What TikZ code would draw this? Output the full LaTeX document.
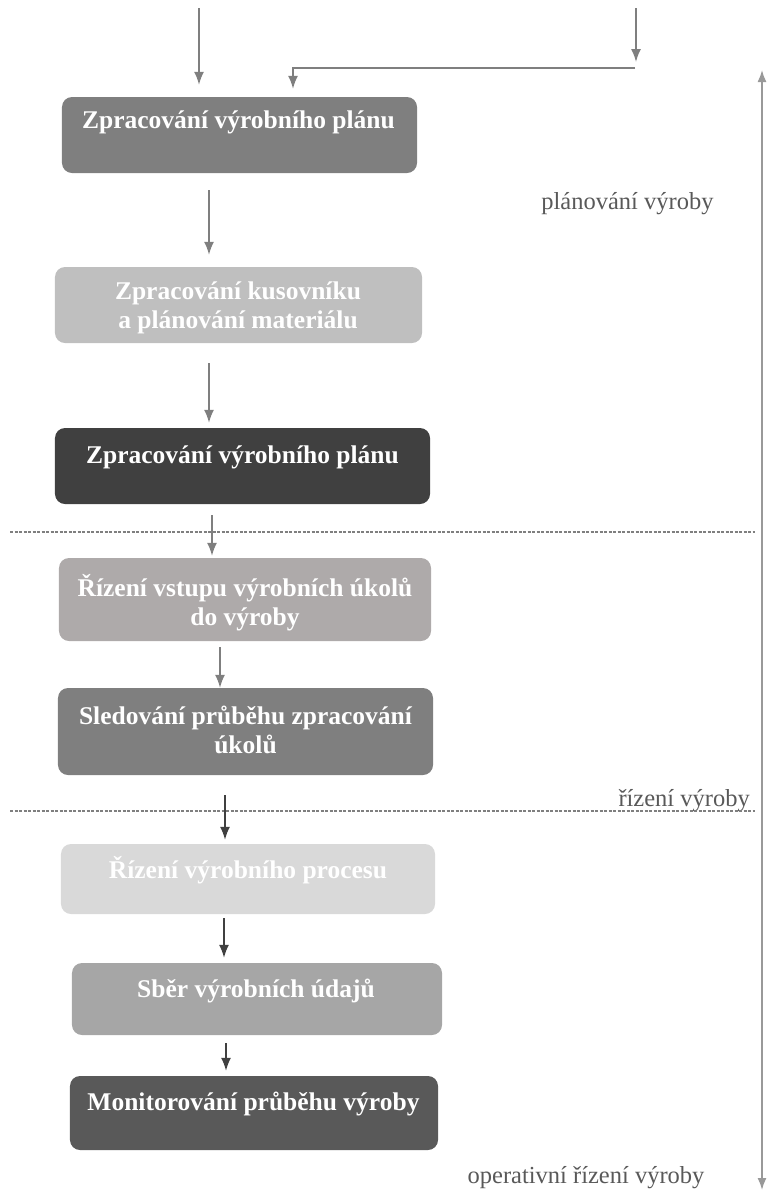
\documentclass[tikz,border=0pt]{standalone}
\usepackage{fontspec}
\setmainfont{Liberation Serif}
\usetikzlibrary{arrows.meta}
\definecolor{cA}{HTML}{7F7F7F}
\definecolor{cB}{HTML}{BFBFBF}
\definecolor{cC}{HTML}{404040}
\definecolor{cD}{HTML}{AEAAAA}
\definecolor{cE}{HTML}{7F7F7F}
\definecolor{cF}{HTML}{D9D9D9}
\definecolor{cG}{HTML}{A6A6A6}
\definecolor{cH}{HTML}{595959}
\definecolor{arrgray}{HTML}{7F7F7F}
\definecolor{arrdark}{HTML}{404040}
\definecolor{labgray}{HTML}{595959}
\tikzset{
  box/.style={rectangle, rounded corners=10bp, draw=none, inner sep=0pt},
  boxtext/.style={anchor=base, inner sep=0pt, text=white, align=center,
    font=\fontsize{25.5bp}{29bp}\selectfont\bfseries},
  sidelabel/.style={anchor=base, inner sep=0pt, text=labgray,
    font=\fontsize{24.5bp}{29bp}\selectfont},
  arr/.style={draw=arrgray, line width=1.6bp, -{Latex[length=13bp,width=10bp]}},
  arrd/.style={draw=arrdark, line width=1.6bp, -{Latex[length=13bp,width=10bp]}},
  divider/.style={draw=arrgray, line width=1.6bp, dash pattern=on 3bp off 1.5bp},
}
\begin{document}
\begin{tikzpicture}[x=1bp,y=-1bp]
\useasboundingbox (0,0) rectangle (768,1191);
% boxes
\node[box, fill=cA, minimum width=355bp, minimum height=76bp] (b1) at (239.5,135) {};
\node[box, fill=cB, minimum width=367bp, minimum height=76bp] (b2) at (238.5,305) {};
\node[box, fill=cC, minimum width=375bp, minimum height=76bp] (b3) at (242.5,466) {};
\node[box, fill=cD, minimum width=372bp, minimum height=83bp] (b4) at (245,599.5) {};
\node[box, fill=cE, minimum width=375bp, minimum height=87bp] (b5) at (245.5,731.5) {};
\node[box, fill=cF, minimum width=374bp, minimum height=70bp] (b6) at (248,879) {};
\node[box, fill=cG, minimum width=370bp, minimum height=72bp] (b7) at (257,999) {};
\node[box, fill=cH, minimum width=368bp, minimum height=74bp] (b8) at (254,1113) {};
% box texts (anchor=base is the baseline of the last line)
\node[boxtext] (t1) at (238.5,128) {Zpracování výrobního plánu};
\node[boxtext] (t2) at (238,328) {Zpracování kusovníku\\a plánování materiálu};
\node[boxtext] (t3) at (242.5,463) {Zpracování výrobního plánu};
\node[boxtext] (t4) at (245,625) {Řízení vstupu výrobních úkolů\\do výroby};
\node[boxtext] (t5) at (245.5,753) {Sledování průběhu zpracování\\úkolů};
\node[boxtext] (t6) at (248,878) {Řízení výrobního procesu};
\node[boxtext] (t7) at (256,997) {Sběr výrobních údajů};
\node[boxtext] (t8) at (253.5,1110) {Monitorování průběhu výroby};
% side labels
\node[sidelabel] (l1) at (627.5,209) {plánování výroby};
\node[sidelabel, anchor=base east] (l2) at (750,806) {řízení výroby};
\node[sidelabel] (l3) at (586,1183) {operativní řízení výroby};
% dividers
\coordinate (d1a) at (10,532);
\coordinate (d1b) at (755,532);
\coordinate (d2a) at (10,811);
\coordinate (d2b) at (755,811);
\draw[divider] (d1a) -- (d1b);
\draw[divider] (d2a) -- (d2b);
% right double arrow
\coordinate (ra) at (762,70);
\coordinate (rb) at (762,1190);
\draw[draw=black!40, line width=1.6bp, {Latex[length=12bp,width=9bp]}-{Latex[length=12bp,width=9bp]}] (ra) -- (rb);
% top inputs
\coordinate (in1) at (199,8);
\coordinate (in2) at (636,8);
\coordinate (in2e) at (636,62);
\coordinate (elb) at (635,68);
\coordinate (xE) at (293,0);
\draw[arr, shorten >=12bp] (in1) -- (in1 |- b1.north);
\draw[arr] (in2) -- (in2e);
\draw[arr, shorten >=8bp] (elb) -- (xE |- elb) -- (xE |- b1.north);
% flow arrows
\coordinate (xA) at (209,0);
\coordinate (xC) at (212,0);
\coordinate (xD) at (220,0);
\coordinate (xF) at (225,0);
\coordinate (xG) at (224,0);
\coordinate (xH) at (226,0);
\draw[arr, shorten <=17bp, shorten >=12bp] (xA |- b1.south) -- (xA |- b2.north);
\draw[arr, shorten <=20bp, shorten >=5bp] (xA |- b2.south) -- (xA |- b3.north);
\draw[arr, shorten <=11bp, shorten >=2bp] (xC |- b3.south) -- (xC |- b4.north);
\draw[arr, shorten <=6bp, shorten >=0bp] (xD |- b4.south) -- (xD |- b5.north);
\draw[arrd, shorten <=20bp, shorten >=4bp] (xF |- b5.south) -- (xF |- b6.north);
\draw[arrd, shorten <=4bp, shorten >=5bp] (xG |- b6.south) -- (xG |- b7.north);
\draw[arrd, shorten <=8bp, shorten >=5bp] (xH |- b7.south) -- (xH |- b8.north);
\end{tikzpicture}
\end{document}
